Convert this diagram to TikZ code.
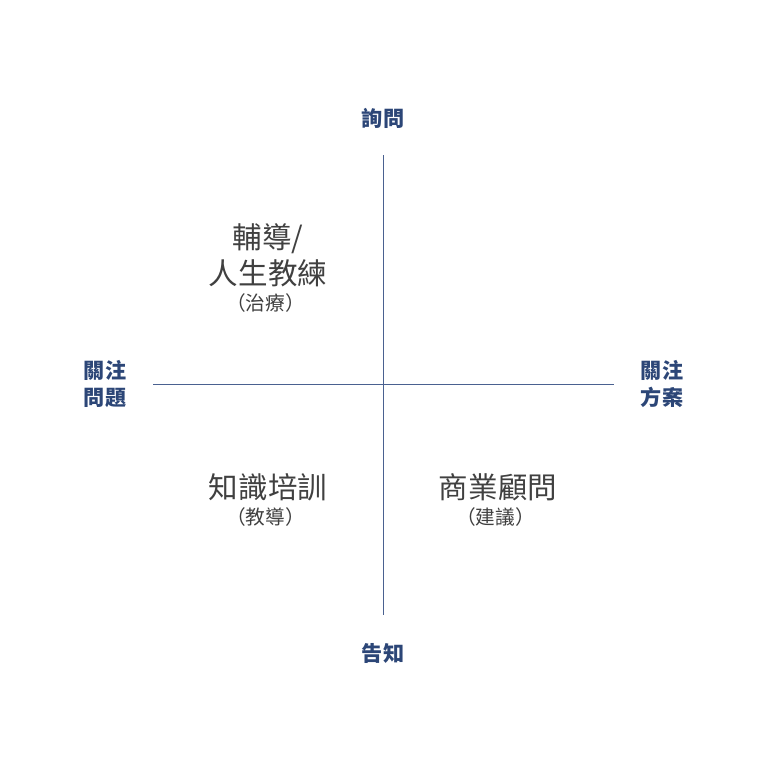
\documentclass[tikz,border=0pt]{standalone}
\usepackage{fontspec}
\newfontfamily\cjk{Noto Sans CJK TC}
\usepackage{tikz}
\usetikzlibrary{positioning}
\definecolor{axisblue}{HTML}{4A6190}
\definecolor{labelblue}{HTML}{2C4677}
\definecolor{quadgray}{HTML}{404040}
\newcommand{\paren}[1]{\hspace{-0.25em}（#1）\hspace{-0.65em}}

\begin{document}
\begin{tikzpicture}[x=0.025cm, y=-0.025cm, font=\cjk,
    axislabel/.style={text=labelblue, font=\cjk\bfseries\fontsize{15}{18}\selectfont, align=center, inner sep=0pt},
    quadtitle/.style={text=quadgray, font=\cjk\fontsize{21}{25.5}\selectfont, align=center, inner sep=0pt},
    quadnote/.style={text=quadgray, font=\cjk\fontsize{14}{17}\selectfont, inner sep=0pt}]

    % Canvas in pixel units of the 768x770 image (y runs downward)
    \useasboundingbox (0,0) rectangle (768,770);

    % Axis end points
    \coordinate (top) at (383, 155);
    \coordinate (bottom) at (383, 615);
    \coordinate (left) at (153, 384);
    \coordinate (right) at (614, 384);

    % Axes
    \draw[axisblue, line width=0.7pt] (top) -- (bottom);
    \draw[axisblue, line width=0.7pt] (left) -- (right);

    % Axis labels
    \node[axislabel] (ask) at (383, 118) {詢問};
    \node[axislabel] (tell) at (383, 653) {告知};
    \node[axislabel] (problem) at (105, 384) {關注\\[1pt]問題};
    \node[axislabel] (solution) at (662, 384) {關注\\[1pt]方案};

    % Quadrant contents
    \node[quadtitle] (coach) at (268, 255) {輔導/\\人生教練};
    \node[quadnote] (coachnote) at (268, 303) {\paren{治療}};
    \node[quadtitle] (train) at (268, 487) {知識培訓};
    \node[quadnote] (trainnote) at (268, 517) {\paren{教導}};
    \node[quadtitle] (consult) at (498, 487) {商業顧問};
    \node[quadnote] (consultnote) at (498, 517) {\paren{建議}};

\end{tikzpicture}
\end{document}
